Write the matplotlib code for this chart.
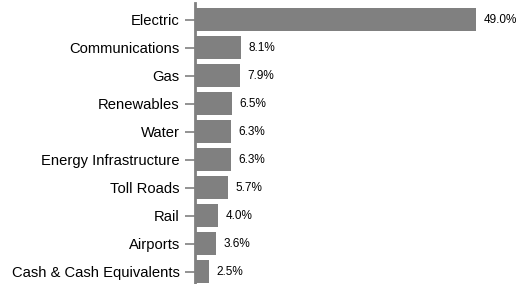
import matplotlib.pyplot as plt

# sector weights (%)
categories = ['Electric', 'Communications', 'Gas', 'Renewables', 'Water',
              'Energy Infrastructure', 'Toll Roads', 'Rail', 'Airports',
              'Cash & Cash Equivalents']
values = [49.0, 8.1, 7.9, 6.5, 6.3, 6.3, 5.7, 4.0, 3.6, 2.5]
value_labels = ['49.0%', '8.1%', '7.9%', '6.5%', '6.3%', '6.3%', '5.7%',
                '4.0%', '3.6%', '2.5%']

plt.rcParams['font.family'] = ['Liberation Sans', 'DejaVu Sans']

fig = plt.figure(figsize=(5.16, 2.84), dpi=100)
ax = fig.add_axes([195 / 516, 0.0, 1 - 195 / 516, 1 - 3 / 284])

pos = list(range(len(categories)))
ax.barh(pos, values, height=0.82, color='#808080')

for p, v, lab in zip(pos, values, value_labels):
    ax.text(v + 1.3, p, lab, va='center', ha='left', fontsize=8.5, color='#000000')

ax.set_yticks(pos)
ax.set_yticklabels(categories, fontsize=10.6, color='#000000')
ax.set_ylim(9.43, -0.6)
ax.set_xlim(0, 56.0)
ax.set_xticks([])

for side in ['top', 'right', 'bottom']:
    ax.spines[side].set_visible(False)
ax.spines['left'].set_color('#808080')
ax.spines['left'].set_linewidth(2)
ax.tick_params(axis='y', length=7, width=1.2, color='#808080', pad=4)

fig.savefig('out.png', dpi=100)
